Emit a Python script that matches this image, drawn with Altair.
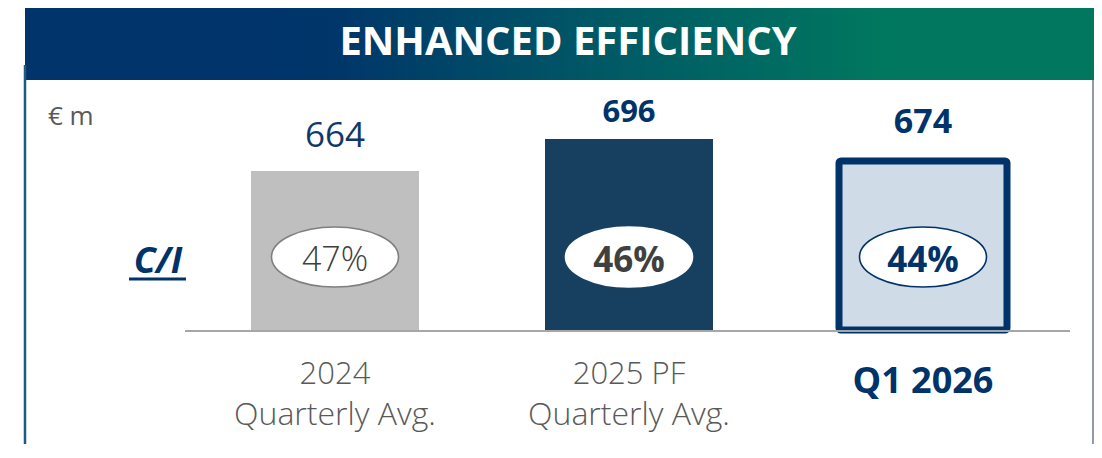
import altair as alt
import pandas as pd

# ---- data ----
periods = ["2024", "2025 PF", "Q1 2026"]
subtitles = ["Quarterly Avg.", "Quarterly Avg.", ""]
costs = [664, 696, 674]           # € m
ci_ratio = [47, 46, 44]           # C/I ratio, %

df = pd.DataFrame({
    "period": periods,
    "sub": subtitles,
    "cost": costs,
    "ci": [f"{v}%" for v in ci_ratio],
})
one = pd.DataFrame({"k": [0]})

NAVY = "#00336a"
FONT = "Open Sans"

xscale = alt.Scale(domain=periods, paddingInner=0.4286, paddingOuter=0.2143)
X = alt.X("period:N", scale=xscale, axis=None, sort=periods)
Y = alt.Y("cost:Q", scale=alt.Scale(domain=[505, 730], zero=False, nice=False), axis=None)

base = alt.Chart(df)

# header banner
header = alt.Chart(one).mark_rect(
    fill=alt.LinearGradient(
        gradient="linear",
        stops=[alt.GradientStop(offset=0, color="#00346a"),
               alt.GradientStop(offset=0.28, color="#00356a"),
               alt.GradientStop(offset=0.55, color="#005a65"),
               alt.GradientStop(offset=0.8, color="#00775f"),
               alt.GradientStop(offset=1, color="#00785e")],
        x1=0, x2=1, y1=0, y2=0),
).encode(x=alt.value(-163), x2=alt.value(906), y=alt.value(-97), y2=alt.value(-25))

title = alt.Chart(one).mark_text(
    text="ENHANCED EFFICIENCY", font=FONT, fontSize=40, fontWeight="bold",
    color="white", align="center", baseline="alphabetic",
).encode(x=alt.value(380), y=alt.value(-50))

left_border = alt.Chart(one).mark_rule(color="#1f5a82", strokeWidth=2.5).encode(
    x=alt.value(-163), y=alt.value(-40), y2=alt.value(339))
right_border = alt.Chart(one).mark_rule(color="#6a7a8a", strokeWidth=1.5).encode(
    x=alt.value(905), y=alt.value(-25), y2=alt.value(339))

unit = alt.Chart(one).mark_text(
    text="€ m", font=FONT, fontSize=26, color="#595959", align="left", baseline="alphabetic",
).encode(x=alt.value(-140), y=alt.value(20))

ci_label = alt.Chart(one).mark_text(
    text="C/I", font=FONT, fontSize=36, fontWeight="bold", fontStyle="italic",
    color=NAVY, align="center", baseline="alphabetic",
).encode(x=alt.value(-30), y=alt.value(168))
ci_underline = alt.Chart(one).mark_rule(color=NAVY, strokeWidth=3).encode(
    x=alt.value(-59), x2=alt.value(-2), y=alt.value(174))

# bars
bars12 = base.transform_filter(alt.datum.period != "Q1 2026").mark_bar().encode(
    x=X, y=Y, y2=alt.datum(505),
    color=alt.Color("period:N", scale=alt.Scale(domain=["2024", "2025 PF"],
                                               range=["#bfbfbf", "#174060"]), legend=None),
)
bar3 = base.transform_filter(alt.datum.period == "Q1 2026").mark_bar(
    fill="#cfdbe7", stroke=NAVY, strokeWidth=7, cornerRadius=2,
).encode(x=X, y=Y, y2=alt.datum(505))

baseline = alt.Chart(one).mark_rule(color="#a6a6a6", strokeWidth=2).encode(
    x=alt.value(-3), x2=alt.value(882), y=alt.value(226))

# value labels
v1 = base.transform_filter(alt.datum.period == "2024").mark_text(
    font=FONT, fontSize=35, color="#12386a", baseline="alphabetic", dy=-24,
).encode(x=X, y=Y, text="cost:Q")
v2 = base.transform_filter(alt.datum.period == "2025 PF").mark_text(
    font=FONT, fontSize=31, fontWeight="bold", color=NAVY, baseline="alphabetic", dy=-17,
).encode(x=X, y=Y, text="cost:Q")
v3 = base.transform_filter(alt.datum.period == "Q1 2026").mark_text(
    font=FONT, fontSize=34, fontWeight="bold", color=NAVY, baseline="alphabetic", dy=-28,
).encode(x=X, y=Y, text="cost:Q")

# C/I ellipses
ELL = "M-1,0A1,0.472,0,1,1,1,0A1,0.472,0,1,1,-1,0Z"
ell = base.mark_point(shape=ELL, size=127 * 127, filled=True, fill="white", opacity=1).encode(
    x=X, y=alt.value(152),
    stroke=alt.Color("period:N", scale=alt.Scale(domain=periods,
                                                range=["#7f7f7f", "white", NAVY]), legend=None),
    strokeWidth=alt.value(1.6),
)

p1 = base.transform_filter(alt.datum.period == "2024").mark_text(
    font=FONT, fontSize=34, fontWeight=300, color="#404040", baseline="alphabetic",
).encode(x=X, y=alt.value(166), text="ci:N")
p2 = base.transform_filter(alt.datum.period == "2025 PF").mark_text(
    font=FONT, fontSize=35, fontWeight="bold", color="#404040", baseline="alphabetic",
).encode(x=X, y=alt.value(167), text="ci:N")
p3 = base.transform_filter(alt.datum.period == "Q1 2026").mark_text(
    font=FONT, fontSize=35, fontWeight="bold", color=NAVY, baseline="alphabetic",
).encode(x=X, y=alt.value(167), text="ci:N")

# category labels
l1 = base.transform_filter(alt.datum.period != "Q1 2026").mark_text(
    font=FONT, fontSize=31, fontWeight=300, color="#595959", baseline="alphabetic",
).encode(x=X, y=alt.value(279), text="period:N")
l2 = base.transform_filter(alt.datum.period != "Q1 2026").mark_text(
    font=FONT, fontSize=32, fontWeight=300, color="#595959", baseline="alphabetic",
).encode(x=X, y=alt.value(320), text="sub:N")
l3 = base.transform_filter(alt.datum.period == "Q1 2026").mark_text(
    font=FONT, fontSize=36, fontWeight="bold", color=NAVY, baseline="alphabetic",
).encode(x=X, y=alt.value(288), text="period:N")

chart = alt.layer(
    header, title, left_border, right_border, unit, ci_label, ci_underline,
    bars12, bar3, baseline, v1, v2, v3, ell, p1, p2, p3, l1, l2, l3,
).resolve_scale(color="independent").properties(
    width=882, height=225,
    padding={"left": 180, "top": 97, "right": 24, "bottom": 114},
    autosize=alt.AutoSizeParams(type="none"),
    background="white",
).configure_view(strokeWidth=0)

chart.save("out.html", embed_options={"renderer": "svg", "actions": False})
